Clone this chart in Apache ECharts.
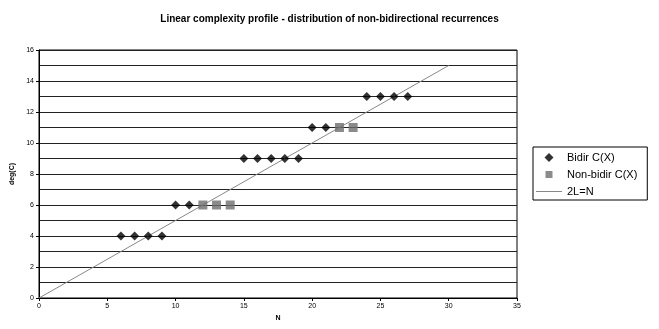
<!DOCTYPE html>
<html><head><meta charset="utf-8">
<script src="https://cdn.jsdelivr.net/npm/echarts@6/dist/echarts.min.js"></script>
<style>html,body{margin:0;padding:0;background:#fff}#c{width:659px;height:329px}</style>
</head><body><div id="c"></div>
<script>
const bidirN   = [6,7,8,9,10,11,15,16,17,18,19,20,21,24,25,26,27];
const bidirDeg = [4,4,4,4,6,6,9,9,9,9,9,11,11,13,13,13,13];
const nonN     = [12,13,14,22,23];
const nonDeg   = [6,6,6,11,11];
const lineN    = [0,30];
const lineDeg  = [0,15];
const xTicks = [0,5,10,15,20,25,30,35];
const yTicks = [0,2,4,6,8,10,12,14,16];

const zip = (a,b) => a.map((v,i)=>[v,b[i]]);
const chart = echarts.init(document.getElementById('c'));
const fam = 'Liberation Sans, Arial, sans-serif';
const diamondIcon = 'path://M0,0 M26,9 M8.5,4.5 L13,0 L17.5,4.5 L13,9 Z';
const rectIcon = 'path://M0,0 M26,9 M9.5,1 L16.5,1 L16.5,8 L9.5,8 Z';
const lineIcon = 'path://M0,0 M26,9 M0,4 L26,4 L26,5 L0,5 Z';
chart.setOption({
  animation:false,
  backgroundColor:'#fff',
  title:{text:'Linear complexity profile - distribution of non-bidirectional recurrences',
    left:'center', top:9, textStyle:{fontFamily:fam,fontSize:10,fontWeight:'bold',color:'#000'}},
  grid:{left:39,right:142,top:50,bottom:31,show:true,borderColor:'#000',borderWidth:1},
  xAxis:{type:'value',min:0,max:35,interval:5,name:'N',nameLocation:'middle',nameGap:17,
    nameTextStyle:{fontFamily:fam,fontSize:7,fontWeight:'bold',color:'#000'},
    axisLine:{show:true,lineStyle:{color:'#000'}},
    axisTick:{show:true,length:3,lineStyle:{color:'#000'}},
    axisLabel:{fontFamily:fam,fontSize:7,color:'#000',margin:5},
    splitLine:{show:false}},
  yAxis:{type:'value',min:0,max:16,interval:2,name:'deg(C)',nameLocation:'middle',nameGap:22,
    nameTextStyle:{fontFamily:fam,fontSize:7,fontWeight:'bold',color:'#000'},
    axisLine:{show:true,lineStyle:{color:'#000'}},
    axisTick:{show:true,length:3,lineStyle:{color:'#000'}},
    axisLabel:{fontFamily:fam,fontSize:7,color:'#000',margin:5},
    splitLine:{show:true,lineStyle:{color:'#222',width:1}},
    minorTick:{show:false,splitNumber:2},
    minorSplitLine:{show:true,lineStyle:{color:'#222',width:1}}},
  legend:{orient:'vertical',left:533,top:147,width:117,itemWidth:26,itemHeight:9,itemGap:6,
    borderColor:'#000',borderWidth:1,padding:[5,10,3,3],
    textStyle:{fontFamily:fam,fontSize:11,color:'#000'},
    data:[{name:'Bidir C(X)',icon:diamondIcon},{name:'Non-bidir C(X)',icon:rectIcon},{name:'2L=N',icon:lineIcon}]},
  series:[
    {name:'2L=N',type:'line',data:zip(lineN,lineDeg),symbol:'none',
      lineStyle:{color:'#888',width:1},itemStyle:{color:'#888'},z:1},
    {name:'Bidir C(X)',type:'scatter',data:zip(bidirN,bidirDeg),symbol:'diamond',symbolSize:9,
      itemStyle:{color:'#000'},z:3},
    {name:'Non-bidir C(X)',type:'scatter',data:zip(nonN,nonDeg),symbol:'rect',symbolSize:9,
      itemStyle:{color:'#6e6e6e'},z:3}
  ]
});
</script></body></html>
